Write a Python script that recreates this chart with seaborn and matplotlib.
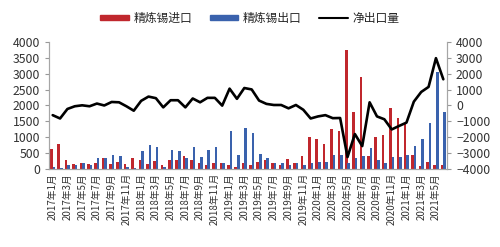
import matplotlib
matplotlib.use("Agg")
import matplotlib.pyplot as plt
from matplotlib.patches import Patch
from matplotlib.lines import Line2D
import numpy as np
import pandas as pd
import seaborn as sns

months = [f"{y}年{m}月" for y in range(2017, 2022) for m in range(1, 13)][:54]

imports = [630, 790, 290, 160, 200, 150, 180, 340, 160, 230,
           150, 330, 270, 160, 260, 130, 270, 270, 420, 270,
           180, 130, 200, 180, 130, 75, 200, 130, 220, 290,
           180, 130, 320, 180, 400, 1010, 930, 800, 1250, 1200,
           3750, 1800, 2900, 420, 1010, 1060, 1920, 1590, 1440, 450,
           100, 230, 130, 130]
exports = [50, 30, 130, 130, 200, 130, 340, 340, 440, 420,
           75, 20, 550, 740, 690, 75, 590, 550, 340, 680,
           370, 590, 690, 180, 1200, 450, 1300, 1140, 470, 360,
           180, 200, 130, 180, 130, 180, 230, 230, 440, 440,
           180, 340, 420, 660, 290, 180, 370, 370, 450, 710,
           930, 1440, 3060, 1780]
net = [-610, -820, -220, -50, 10, -50, 120, 0, 220, 200,
       -50, -330, 290, 560, 460, -120, 330, 330, -120, 440,
       200, 480, 480, -10, 1060, 420, 1100, 1010, 310, 100,
       30, 30, -180, 30, -270, -820, -690, -610, -800, -790,
       -3250, -1800, -2560, 200, -690, -870, -1510, -1290, -1080, 240,
       850, 1170, 2980, 1650]

series_names = ["精炼锡进口", "精炼锡出口", "净出口量"]
colors = ["#C0272D", "#3A62AD", "#000000"]

sns.set_style("white")
plt.rcParams["font.family"] = ["Noto Sans CJK SC", "DejaVu Sans"]

df = pd.DataFrame({
    "month": months * 2,
    "value": imports + exports,
    "series": [series_names[0]] * len(months) + [series_names[1]] * len(months),
})
df_net = pd.DataFrame({"pos": np.arange(len(months)), "net": net})

fig = plt.figure(figsize=(5.0, 2.47), dpi=100)
ax = fig.add_axes([0.098, 0.316, 0.796, 0.514])

sns.barplot(data=df, x="month", y="value", hue="series", order=months,
            hue_order=series_names[:2], palette=colors[:2], width=0.7,
            dodge=True, ax=ax, legend=False, saturation=1, linewidth=0,
            edgecolor="none")

ax2 = ax.twinx()
sns.lineplot(data=df_net, x="pos", y="net", color=colors[2], linewidth=1.9, ax=ax2)

ax.set_xlim(-0.5, len(months) - 0.5)
ax.set_ylim(0, 4000)
ax.set_yticks(range(0, 4001, 500))
ax2.set_ylim(-4000, 4000)
ax2.set_yticks(range(-4000, 4001, 1000))

ax.set_xticks(range(0, len(months), 2))
ax.set_xticklabels(months[::2], rotation=90, fontsize=7, color="#333333")
ax.tick_params(axis="y", labelsize=8.8, colors="#333333", length=3, color="#999999", direction="out", left=True)
ax.tick_params(axis="x", length=0, pad=3)
ax2.tick_params(axis="y", labelsize=8.8, colors="#333333", length=3, color="#999999", direction="out", right=True)

for a in (ax, ax2):
    a.set_xlabel("")
    a.set_ylabel("")
    a.spines["top"].set_visible(False)
    for s in ("left", "right", "bottom"):
        a.spines[s].set_color("#A6A6A6")
        a.spines[s].set_linewidth(0.8)
    a.grid(False)

handles = [Patch(color=colors[0]), Patch(color=colors[1]),
           Line2D([0], [0], color=colors[2], linewidth=1.5)]
fig.legend(handles, series_names, loc="center", bbox_to_anchor=(0.5, 0.927),
           ncol=3, frameon=False, fontsize=8.5, handlelength=2.4, handleheight=0.35,
           columnspacing=1.5, handletextpad=0.4)

fig.savefig("out.png", dpi=100)
